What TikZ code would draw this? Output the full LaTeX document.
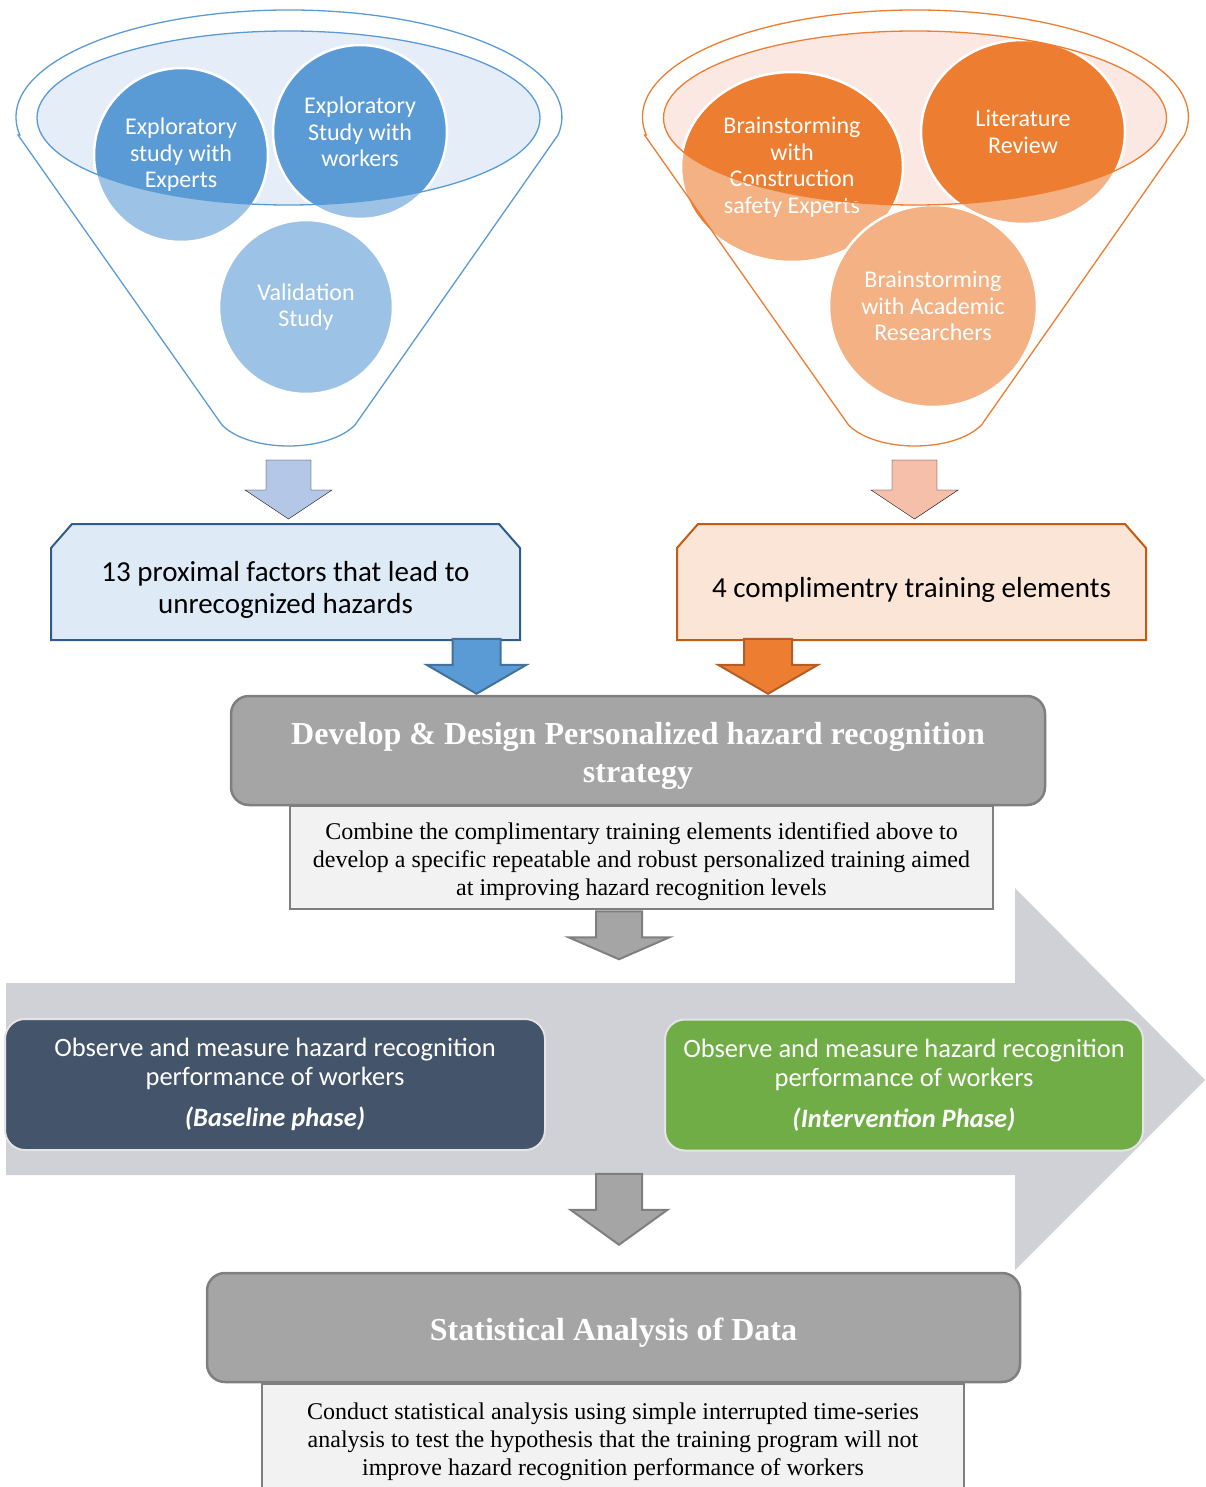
\documentclass[tikz,border=0pt]{standalone}
\usepackage{fontspec}
\setmainfont{Liberation Serif}
\newfontfamily\carlito{Carlito}
\usetikzlibrary{calc,shapes.geometric,backgrounds}

\definecolor{bluedark}{HTML}{5B9BD5}
\definecolor{bluetint}{HTML}{E4EDF8}
\definecolor{bluepale}{HTML}{B4C7E7}
\definecolor{blueedge}{HTML}{41719C}
\definecolor{bluebox}{HTML}{DEEBF7}
\definecolor{blueline}{HTML}{2F5C8F}
\definecolor{orgdark}{HTML}{ED7D31}
\definecolor{orgtint}{HTML}{FCE8E2}
\definecolor{orgpale}{HTML}{F5BFAA}
\definecolor{orgedge}{HTML}{B45E25}
\definecolor{orgbox}{HTML}{FBE5D6}
\definecolor{orgline}{HTML}{C55A11}
\definecolor{boxgray}{HTML}{A5A5A5}
\definecolor{edgegray}{HTML}{7F7F7F}
\definecolor{notegray}{HTML}{F2F2F2}
\definecolor{arrowbg}{HTML}{D0D1D6}
\definecolor{slate}{HTML}{44546A}
\definecolor{leaf}{HTML}{70AD47}
\definecolor{phaseedge}{HTML}{E4E4E4}

% funnel outline (left funnel, shifted for the right one)
\newcommand{\funnelpath}{(18,135) -- (222,425) .. controls (250,453) and (327,453) .. (355,425)
    -- (558,135) arc[start angle=9.7, end angle=-189.7, x radius=273, y radius=107] -- cycle
    (288.5,118) ellipse [x radius=251.5, y radius=87]}

% block arrow pointing down: style, tip, length, head length, shaft half, head half
\newcommand{\downblock}[6]{%
  \draw[#1] ($#2+(-#5,-#3)$) -- ($#2+(#5,-#3)$) -- ($#2+(#5,-#4)$) -- ($#2+(#6,-#4)$) -- #2
    -- ($#2+(-#6,-#4)$) -- ($#2+(-#5,-#4)$) -- cycle;}

% box with snipped top corners round a node
\newcommand{\snipframe}[2]{%
  \draw[#2] ($(#1.center)+(-234.5,50.5)$) -- ($(#1.center)+(-234.5,-41.5)$)
    -- ($(#1.center)+(-213.5,-65.5)$) -- ($(#1.center)+(213.5,-65.5)$)
    -- ($(#1.center)+(234.5,-41.5)$) -- ($(#1.center)+(234.5,50.5)$) -- cycle;}

% taller first line, pushes the text block down a little
\newcommand{\topstrut}[1]{\rule{0pt}{#1}}

\begin{document}
\begin{tikzpicture}[
    x=1pt, y=-1pt,
    circ/.style={circle, fill=bluedark, draw=white, line width=2.5pt, inner sep=0pt,
        minimum size=174pt, text=white, align=center,
        font=\carlito\fontsize{24}{26.5}\selectfont},
    oval/.style={ellipse, fill=orgdark, draw=white, line width=2.5pt, inner sep=0pt,
        text=white, align=center, font=\carlito\fontsize{24}{26.5}\selectfont},
    snipbox/.style={rectangle, minimum width=469pt, align=center,
        font=\carlito\fontsize{29}{32}\selectfont},
    headbox/.style={rectangle, rounded corners=18pt, fill=boxgray, draw=edgegray, line width=2.5pt,
        text=white, align=center, font=\bfseries\fontsize{32}{38}\selectfont},
    notebox/.style={rectangle, fill=notegray, draw=edgegray, line width=2.5pt, align=center,
        font=\fontsize{24}{28}\selectfont},
    phase/.style={rectangle, rounded corners=20pt, draw=phaseedge, line width=2pt, text=white,
        minimum height=131pt, align=center, font=\carlito\fontsize{26.5}{29}\selectfont},
    blockarr/.style={line width=2pt, line join=miter}
]
\useasboundingbox (0,0) rectangle (1205,1487);

% --- Timeline arrow (background) ---
\fill[arrowbg] (6,983) -- (1015,983) -- (1015,888) -- (1205,1080) -- (1015,1270)
    -- (1015,1175) -- (6,1175) -- cycle;

% --- Funnel inputs ---
\fill[bluetint] (288.5,118) ellipse [x radius=251.5, y radius=87];
\fill[orgtint] (915,118) ellipse [x radius=251.5, y radius=87];

\node[circ] (expA) at (181,155) {Exploratory\\study with\\Experts};
\node[circ] (expB) at (360,132) {Exploratory\\Study with\\workers};
\node[circ] (valid) at (306,307) {Validation\\Study};

\node[oval, minimum width=222pt, minimum height=190pt] (brainC) at (792,167)
    {Brainstorming\\with\\Construction\\safety Experts};
\node[oval, minimum width=204pt, minimum height=184pt] (litrev) at (1023,132)
    {Literature\\Review};
\node[oval, minimum width=208pt, minimum height=202pt] (brainA) at (933,306)
    {Brainstorming\\with Academic\\Researchers};

\fill[white, fill opacity=0.4, even odd rule] \funnelpath;
\draw[bluedark, line width=1.3pt] \funnelpath;
\begin{scope}[xshift=626.5pt]
  \fill[white, fill opacity=0.4, even odd rule] \funnelpath;
  \draw[orgdark, line width=1.3pt] \funnelpath;
\end{scope}

% --- Outcome boxes ---
\node[snipbox] (factors) at (285.5,589.5) {13 proximal factors that lead to\\unrecognized hazards};
\node[snipbox] (elements) at (911.5,589.5) {4 complimentry training elements};
\begin{scope}[on background layer]
  \snipframe{factors}{fill=bluebox, draw=blueline, line width=2pt}
  \snipframe{elements}{fill=orgbox, draw=orgline, line width=2pt}
\end{scope}

\coordinate (tipA) at ($(factors.center)+(3,-70.5)$);
\coordinate (tipB) at ($(elements.center)+(3,-70.5)$);
\downblock{fill=bluepale}{(tipA)}{59}{29}{22.5}{43.5}
\downblock{fill=orgpale}{(tipB)}{59}{29}{22.5}{43.5}

% --- Strategy ---
\node[headbox, minimum width=814pt, minimum height=109pt] (design) at (638,750.5)
    {\topstrut{33pt}Develop \& Design Personalized hazard recognition\\strategy};
\node[notebox, minimum width=703pt, minimum height=103pt] (designnote) at (641.5,857.5)
    {\topstrut{24.5pt}Combine the complimentary training elements identified above to\\
     develop a specific repeatable and robust personalized training aimed\\
     at improving hazard recognition levels};

\coordinate (tipC) at ($(design.north)+(-161.5,-1)$);
\coordinate (tipD) at ($(design.north)+(130,-1)$);
\downblock{blockarr, fill=bluedark, draw=blueedge}{(tipC)}{55}{29}{24}{50}
\downblock{blockarr, fill=orgdark, draw=orgedge}{(tipD)}{55}{29}{24}{50}

% --- Phases ---
\node[phase, fill=slate, minimum width=540pt] (baseline) at (275,1084.5)
    {Observe and measure hazard recognition\\performance of workers\\[12pt]
     \textbf{\textit{(Baseline phase)}}};
\node[phase, fill=leaf, minimum width=478pt] (intervention) at (904,1085)
    {Observe and measure hazard recognition\\performance of workers\\[12pt]
     \textbf{\textit{(Intervention Phase)}}};

\coordinate (tipE) at ($(designnote.south)+(-22.5,49)$);
\downblock{blockarr, fill=boxgray, draw=edgegray}{(tipE)}{48}{22}{23}{50.5}

% --- Analysis ---
\node[headbox, minimum width=813pt, minimum height=109pt] (stats) at (613.5,1327.5)
    {\topstrut{33pt}Statistical Analysis of Data};
\node[notebox, minimum width=702pt, minimum height=108pt] (statsnote) at (613,1438)
    {\topstrut{24.5pt}Conduct statistical analysis using simple interrupted time-series\\
     analysis to test the hypothesis that the training program will not\\
     improve hazard recognition performance of workers};

\coordinate (tipF) at ($(stats.north)+(5.5,-27)$);
\downblock{blockarr, fill=boxgray, draw=edgegray}{(tipF)}{71}{35}{23}{48.5}

\end{tikzpicture}
\end{document}
